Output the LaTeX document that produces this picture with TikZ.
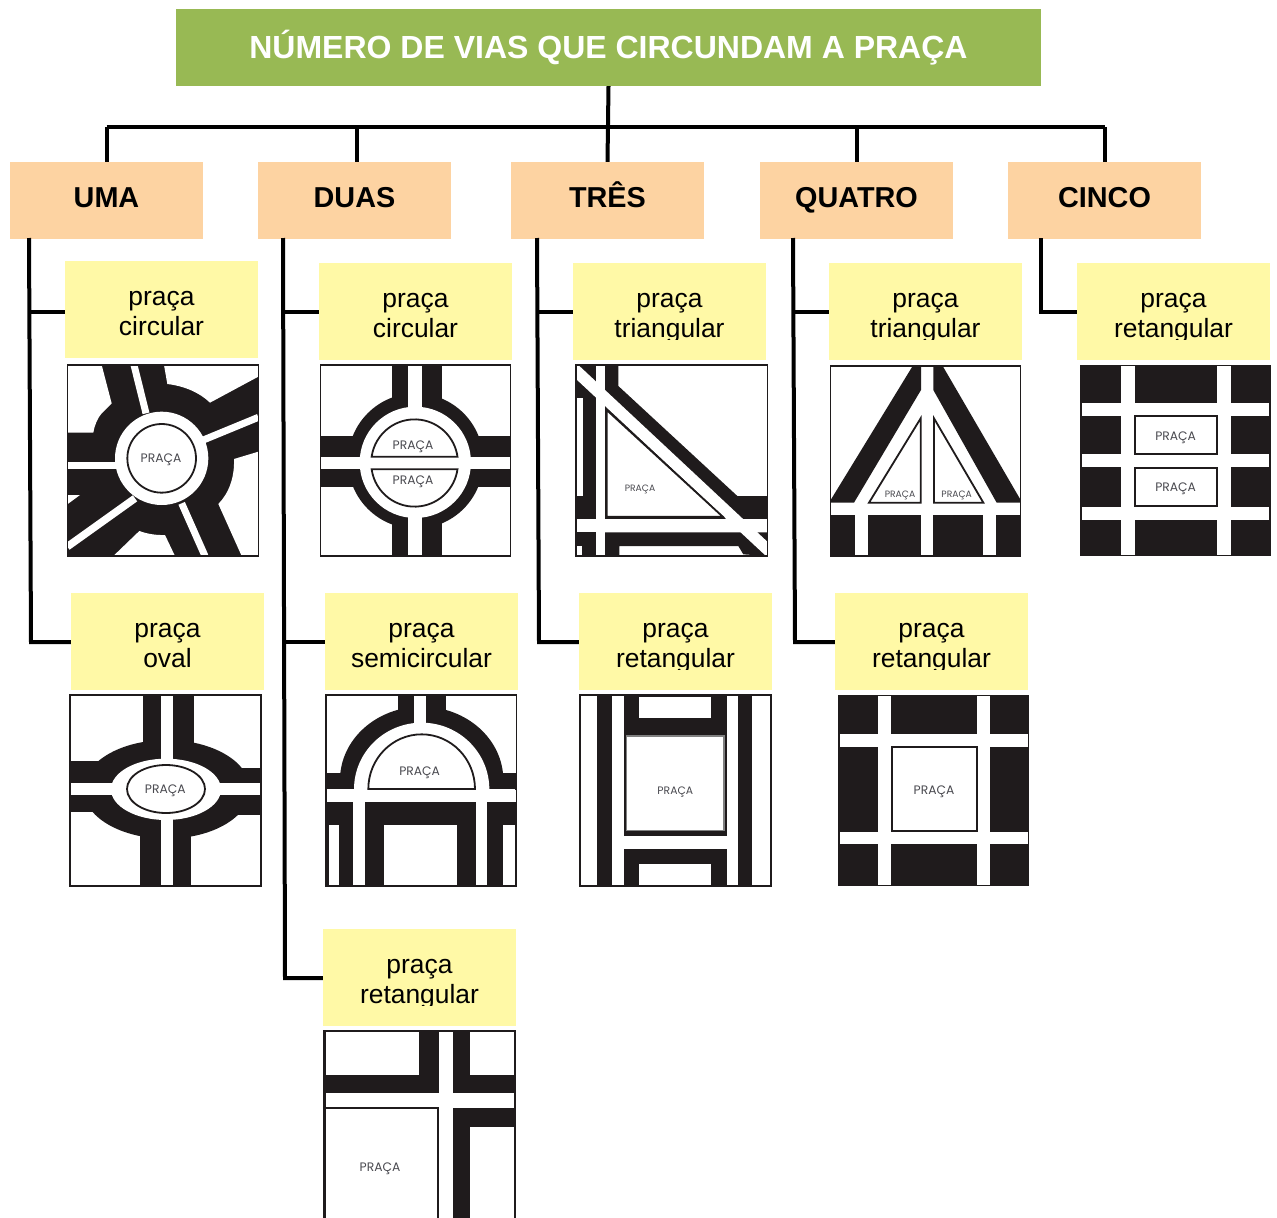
\documentclass[tikz,border=0pt]{standalone}
\usepackage{fontspec}
\setmainfont{Liberation Sans}
\newfontfamily\gothicfont{Poppins}
\definecolor{verde}{HTML}{98B954}
\definecolor{laranja}{HTML}{FDD3A2}
\definecolor{amarelo}{HTML}{FFF9A6}
\definecolor{preto}{HTML}{1F1B1C}
\definecolor{tinta}{HTML}{4A4A50}
\tikzset{
  raizbox/.style={fill=verde, text=white, font=\fontsize{32}{36}\selectfont\bfseries, minimum width=865pt, minimum height=77pt, inner sep=0pt},
  viabox/.style={fill=laranja, font=\fontsize{28.8}{32}\selectfont\bfseries, text height=20pt, text depth=6pt, minimum width=193pt, minimum height=77pt, inner sep=0pt},
  tipobox/.style={fill=amarelo, font=\fontsize{26.4}{30}\selectfont, align=center, text height=52pt, text depth=0pt, minimum width=193pt, minimum height=97pt, inner sep=0pt},
  linha/.style={line width=4pt},
  zoompx/.style={x=0.33333pt, y=-0.33333pt},
  moldura/.style={draw=preto, line width=1.4pt, fill=white},
  contorno/.style={draw=preto, line width=1.8pt, fill=white},
  pista/.style={fill=preto},
  vazio/.style={fill=white},
  praca/.style={text=tinta, font=\fontsize{12.3}{14}\gothicfont, text height=9pt, text depth=0pt, inner sep=0pt},
  pracamenor/.style={text=tinta, font=\fontsize{9.2}{11}\gothicfont, text height=7pt, text depth=0pt, inner sep=0pt}
}
\begin{document}
\begin{tikzpicture}[x=1pt, y=-1pt]
    \useasboundingbox (0,0) rectangle (1277,1218);
    \fill[white] (0,0) rectangle (1277,1218);

    \node[raizbox] (raiz) at (608.5,47.5) {NÚMERO DE VIAS QUE CIRCUNDAM A PRAÇA};

    \begin{scope}[every node/.style={viabox}]
        \node (uma) at (106.5,200.5) {UMA};
        \node (duas) at (354.5,200.5) {DUAS};
        \node (tres) at (607.5,200.5) {TRÊS};
        \node (quatro) at (856.5,200.5) {QUATRO};
        \node (cinco) at (1104.5,200.5) {CINCO};
    \end{scope}

    \begin{scope}[every node/.style={tipobox}]
        \node (umaA) at (161.5,309) {praça\\circular};
        \node (umaB) at (167.5,641) {praça\\oval};
        \node (duasA) at (415.5,311) {praça\\circular};
        \node (duasB) at (421.5,641) {praça\\semicircular};
        \node (duasC) at (419.5,977) {praça\\retangular};
        \node (tresA) at (669.5,311) {praça\\triangular};
        \node (tresB) at (675.5,641) {praça\\retangular};
        \node (quatroA) at (925.5,311) {praça\\triangular};
        \node (quatroB) at (931.5,641) {praça\\retangular};
        \node (cincoA) at (1173.5,311) {praça\\retangular};
    \end{scope}

    % the descenders end at the edge of the text frame
    \foreach \caixa in {duasC,tresA,tresB,quatroA,quatroB,cincoA}
        \fill[amarelo] (\caixa.south west) rectangle ([yshift=20pt]\caixa.south east);

    % connectors
    \coordinate (barra) at (608.5,127);
    \coordinate (umaTopo) at (29,238);
    \coordinate (umaFim) at (31,642);
    \coordinate (umaJ) at (29,312);
    \coordinate (duasTopo) at (283,238);
    \coordinate (duasFim) at (285,978);
    \coordinate (duasJ) at (283,312);
    \coordinate (duasK) at (284,642);
    \coordinate (tresTopo) at (537,238);
    \coordinate (tresFim) at (539,642);
    \coordinate (tresJ) at (537,312);
    \coordinate (quatroTopo) at (793,238);
    \coordinate (quatroFim) at (795,642);
    \coordinate (quatroJ) at (793,312);
    \coordinate (cincoTopo) at (1041,238);
    \coordinate (cincoJ) at (1041,312);

    \begin{scope}[every edge/.style={draw,linha}]
        \path [-] (raiz.south) edge (tres.north);
        \path [-] (uma |- barra) edge (cinco |- barra);
        \path [-] (uma.north) edge (uma |- barra);
        \path [-] ([xshift=2pt]duas.north) edge ([xshift=2pt]duas |- barra);
        \path [-] (quatro.north) edge (quatro |- barra);
        \path [-] (cinco.north) edge (cinco |- barra);
    \end{scope}

    \draw[linha] (umaTopo) -- (umaFim) -- (umaFim -| umaB.west);
    \draw[linha] (umaJ) -- (umaJ -| umaA.west);
    \draw[linha] (duasTopo) -- (duasFim) -- (duasFim -| duasC.west);
    \draw[linha] (duasJ) -- (duasJ -| duasA.west);
    \draw[linha] (duasK) -- (duasK -| duasB.west);
    \draw[linha] (tresTopo) -- (tresFim) -- (tresFim -| tresB.west);
    \draw[linha] (tresJ) -- (tresJ -| tresA.west);
    \draw[linha] (quatroTopo) -- (quatroFim) -- (quatroFim -| quatroB.west);
    \draw[linha] (quatroJ) -- (quatroJ -| quatroA.west);
    \draw[linha] (cincoTopo) -- (cincoJ) -- (cincoJ -| cincoA.west);

    % maps of the first row, left pair
    \begin{scope}[shift={(60,360)}, zoompx]
        % circular, five roads
        \fill[pista] (22,15) rectangle (595,588);
        \fill[vazio] (22,15) -- (125,15) -- (155,130) -- (125,160) .. controls (112,175) and (104,195) .. (100,218) -- (22,218) -- cycle;
        \fill[vazio] (312,15) -- (322,72) .. controls (372,78) and (418,97) .. (450,128) -- (595,50) -- (595,15) -- cycle;
        \fill[vazio] (595,275) -- (522,297) .. controls (524,350) and (508,398) .. (475,432) -- (545,588) -- (595,588) -- cycle;
        \fill[vazio] (160,588) -- (238,513) .. controls (262,522) and (290,526) .. (315,525) -- (345,588) -- cycle;
        \fill[vazio] (22,405) -- (60,405) -- (22,433) -- cycle;
        \draw[white, line width=7pt] (222,15) -- (258,160);
        \draw[white, line width=7pt] (595,172) -- (430,240);
        \draw[white, line width=7pt] (22,315) -- (170,315);
        \draw[white, line width=7.5pt] (22,560) -- (225,415);
        \draw[white, line width=7pt] (365,430) -- (435,588);
        \fill[vazio] (305,295) circle[radius=140];
        \draw[contorno] (305,295) circle[radius=103];
        \node[praca] (m1) at (303,295) {PRAÇA};
        \draw[moldura, fill=none] (22,15) rectangle (595,588);

        % circular, two halves
        \fill[vazio] (782,15) rectangle (1352,588);
        \fill[pista] (997,15) rectangle (1145,588);
        \fill[pista] (782,228) rectangle (1352,380);
        \fill[pista] (1067,303) circle[radius=203];
        \fill[vazio] (1045,15) rectangle (1087,588);
        \fill[vazio] (782,290) rectangle (1352,328);
        \fill[vazio] (1066,307) circle[radius=167];
        \draw[contorno] (935,290) arc[start angle=188, end angle=352, radius=130] -- cycle;
        \draw[contorno] (935,328) arc[start angle=172, end angle=8, radius=130] -- cycle;
        \node[praca] (m2) at (1059,254) {PRAÇA};
        \node[praca] (m3) at (1059,359) {PRAÇA};
        \draw[moldura, fill=none] (782,15) rectangle (1352,588);
    \end{scope}

    % maps of the first row, right pair
    \begin{scope}[shift={(570,360)}, zoompx]
        % triangular, three roads
        \fill[vazio] (18,15) rectangle (592,588);
        \fill[pista] (18,15) rectangle (78,588);
        \fill[vazio] (22,115) rectangle (38,408);
        \fill[vazio] (22,558) rectangle (36,585);
        \fill[pista] (105,15) -- (145,15) -- (145,78) -- (502,408) -- (592,408) -- (592,478) -- (105,478) -- cycle;
        \fill[pista] (105,517) -- (592,517) -- (592,588) -- (520,583) -- (505,558) -- (148,558) -- (148,588) -- (105,588) -- cycle;
        \fill[vazio] (78,15) rectangle (105,588);
        \fill[vazio] (18,478) rectangle (592,517);
        \fill[vazio] (18,15) -- (25,15) -- (592,545) -- (592,588) -- (588,588) -- (18,57) -- cycle;
        \draw[contorno] (110,150) -- (110,470) -- (458,470) -- cycle;
        \node[pracamenor] (m4) at (210,384) {PRAÇA};
        \draw[moldura, fill=none] (18,15) rectangle (592,588);

        % triangular, four roads
        \fill[vazio] (782,18) rectangle (1352,588);
        \fill[pista] (1028,18) -- (1053,18) -- (1053,90) -- (852,428) -- (782,428) -- (782,420) -- cycle;
        \fill[pista] (1090,18) -- (1118,18) -- (1352,420) -- (1352,428) -- (1280,428) -- (1090,90) -- cycle;
        \fill[pista] (782,465) rectangle (1352,588);
        \fill[vazio] (855,465) rectangle (893,585);
        \fill[vazio] (1053,465) rectangle (1090,585);
        \fill[vazio] (1240,465) rectangle (1278,585);
        \draw[contorno] (1052,175) -- (1052,428) -- (897,428) -- cycle;
        \draw[contorno] (1092,175) -- (1092,428) -- (1240,428) -- cycle;
        \node[pracamenor] (m5) at (990,401) {PRAÇA};
        \node[pracamenor] (m6) at (1160,401) {PRAÇA};
        \draw[moldura, fill=none] (782,18) rectangle (1352,588);
    \end{scope}

    % rectangular, five roads
    \begin{scope}[shift={(1070,360)}, zoompx]
        \fill[pista] (30,15) rectangle (603,588);
        \fill[vazio] (152,18) rectangle (195,585);
        \fill[vazio] (441,18) rectangle (483,585);
        \fill[vazio] (35,128) rectangle (598,167);
        \fill[vazio] (35,283) rectangle (598,322);
        \fill[vazio] (35,441) rectangle (598,480);
        \draw[contorno] (195,169) rectangle (441,283);
        \draw[contorno] (195,324) rectangle (441,439);
        \node[praca] (m7) at (317,227) {PRAÇA};
        \node[praca] (m8) at (317,381) {PRAÇA};
    \end{scope}

    % maps of the second row, left pair
    \begin{scope}[shift={(60,690)}, zoompx]
        % oval
        \fill[vazio] (30,15) rectangle (603,588);
        \fill[pista] (248,15) rectangle (403,300);
        \fill[pista] (240,300) rectangle (392,588);
        \fill[pista] (30,213) -- (120,213) -- (120,367) -- (30,367) -- cycle;
        \fill[pista] (520,235) -- (603,235) -- (603,375) -- (520,375) -- cycle;
        \fill[pista] (320,298) ellipse[x radius=250, y radius=148];
        \fill[vazio] (302,15) rectangle (338,588);
        \fill[vazio] (33,280) rectangle (600,315);
        \fill[vazio] (318,298) ellipse[x radius=165, y radius=92];
        \draw[contorno] (318,297) ellipse[x radius=117, y radius=72];
        \node[praca] (m9) at (316,298) {PRAÇA};
        \draw[moldura, fill=none] (30,15) rectangle (603,588);

        % semicircular
        \fill[vazio] (798,15) rectangle (1370,588);
        \fill[pista] (1015,15) rectangle (1157,100);
        \fill[pista] (840,270) arc[start angle=180, end angle=360, x radius=245, y radius=220] -- cycle;
        \fill[pista] (798,248) rectangle (1370,300);
        \fill[pista] (798,335) rectangle (1370,588);
        \fill[vazio] (882,298) arc[start angle=180, end angle=360, x radius=203, y radius=200] -- cycle;
        \fill[vazio] (1062,15) rectangle (1097,110);
        \fill[vazio] (802,298) rectangle (1366,335);
        \fill[vazio] (880,335) rectangle (916,585);
        \fill[vazio] (1247,335) rectangle (1282,585);
        \fill[vazio] (806,405) rectangle (838,585);
        \fill[vazio] (1330,405) rectangle (1365,585);
        \fill[vazio] (972,405) rectangle (1190,588);
        \draw[contorno] (925,297) arc[start angle=180, end angle=360, x radius=160, y radius=164] -- cycle;
        \node[praca] (m10) at (1079,242) {PRAÇA};
        \draw[moldura, fill=none] (798,15) rectangle (1370,588);
    \end{scope}

    % maps of the second row, right pair
    \begin{scope}[shift={(570,690)}, zoompx]
        % rectangular, three roads
        \fill[vazio] (30,15) rectangle (603,588);
        \fill[pista] (82,15) rectangle (127,588);
        \fill[pista] (505,15) rectangle (547,588);
        \fill[pista] (162,15) rectangle (470,438);
        \fill[vazio] (208,20) rectangle (422,83);
        \fill[pista] (162,478) rectangle (470,588);
        \fill[vazio] (208,522) rectangle (422,588);
        \draw[draw=gray, line width=1.2pt, fill=white] (170,138) rectangle (462,422);
        \node[text=tinta, font=\fontsize{10.8}{13}\gothicfont, text height=8pt, text depth=0pt, inner sep=0pt] (m11) at (316,300) {PRAÇA};
        \draw[moldura, fill=none] (30,15) rectangle (603,588);

        % rectangular, four roads
        \fill[pista] (805,15) rectangle (1378,588);
        \fill[vazio] (925,18) rectangle (963,585);
        \fill[vazio] (1222,18) rectangle (1260,585);
        \fill[vazio] (810,132) rectangle (1375,170);
        \fill[vazio] (810,425) rectangle (1375,463);
        \draw[contorno] (965,172) rectangle (1220,423);
        \node[praca] (m12) at (1092,300) {PRAÇA};
    \end{scope}

    % rectangular, two roads
    \begin{scope}[shift={(310,1020)}, zoompx]
        \fill[pista] (40,30) rectangle (618,594);
        \fill[vazio] (47,37) rectangle (328,165);
        \fill[vazio] (480,37) rectangle (612,165);
        \fill[vazio] (387,37) rectangle (428,594);
        \fill[vazio] (47,220) rectangle (612,265);
        \fill[vazio] (480,320) rectangle (612,594);
        \fill[vazio] (47,265) rectangle (428,594);
        \draw[contorno] (45,594) -- (45,265) -- (385,265) -- (385,594);
        \node[praca] (m13) at (210,441) {PRAÇA};
    \end{scope}
\end{tikzpicture}
\end{document}
